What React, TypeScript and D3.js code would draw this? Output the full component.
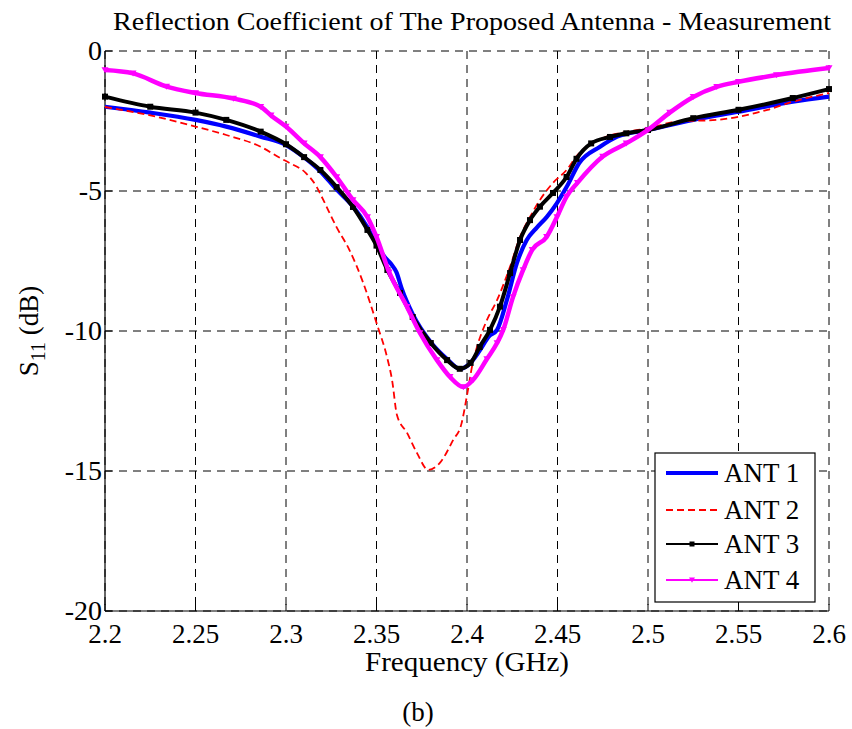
import React from "react";
import * as d3 from "d3";

const xTicks = [2.2, 2.25, 2.3, 2.35, 2.4, 2.45, 2.5, 2.55, 2.6];
const xTickLabels = ["2.2", "2.25", "2.3", "2.35", "2.4", "2.45", "2.5", "2.55", "2.6"];
const yTicks = [0, -5, -10, -15, -20];
const yTickLabels = ["0", "-5", "-10", "-15", "-20"];
const seriesNames = ["ANT 1", "ANT 2", "ANT 3", "ANT 4"];

const ant1F = [2.2, 2.225, 2.25, 2.267, 2.286, 2.3, 2.31, 2.319, 2.328, 2.337, 2.345, 2.35, 2.355, 2.358, 2.361, 2.364, 2.37, 2.38, 2.389, 2.396, 2.401, 2.407, 2.412, 2.4166, 2.422, 2.4276, 2.433, 2.4387, 2.444, 2.4497, 2.455, 2.462, 2.4735, 2.483, 2.5, 2.525, 2.55, 2.58, 2.6];
const ant1S = [-1.99, -2.2, -2.46, -2.7, -3.06, -3.36, -3.8, -4.3, -4.95, -5.55, -6.3, -6.9, -7.4, -7.6, -7.9, -8.5, -9.4, -10.4, -11.0, -11.35, -11.2, -10.7, -10.2, -9.96, -8.9, -7.57, -6.75, -6.3, -5.93, -5.43, -4.86, -4.0, -3.42, -3.06, -2.82, -2.46, -2.17, -1.81, -1.63];

const ant2F = [2.2, 2.225, 2.25, 2.267, 2.286, 2.297, 2.302, 2.311, 2.317, 2.3206, 2.328, 2.335, 2.3427, 2.35, 2.3558, 2.3586, 2.3613, 2.3669, 2.3724, 2.3785, 2.385, 2.3923, 2.397, 2.4, 2.4033, 2.4055, 2.411, 2.4166, 2.4238, 2.4293, 2.4348, 2.4403, 2.4475, 2.455, 2.461, 2.4755, 2.488, 2.5, 2.516, 2.538, 2.55, 2.566, 2.58, 2.6];
const ant2S = [-2.0, -2.3, -2.7, -3.0, -3.42, -3.83, -4.0, -4.36, -4.86, -5.32, -6.3, -7.1, -8.29, -9.71, -10.93, -11.75, -13.0, -13.64, -14.36, -14.96, -14.71, -13.9, -13.3, -12.3, -11.1, -10.57, -9.61, -8.9, -7.7, -6.64, -5.93, -5.32, -4.71, -4.25, -3.72, -3.1, -2.89, -2.76, -2.52, -2.46, -2.35, -2.1, -1.81, -1.5];

const ant3F = [2.2, 2.225, 2.25, 2.267, 2.286, 2.3, 2.31, 2.319, 2.328, 2.337, 2.345, 2.35, 2.356, 2.363, 2.37, 2.38, 2.389, 2.396, 2.402, 2.407, 2.4127, 2.4182, 2.4238, 2.4293, 2.4348, 2.4403, 2.4475, 2.455, 2.4605, 2.4686, 2.479, 2.488, 2.5, 2.525, 2.55, 2.58, 2.6];
const ant3S = [-1.63, -1.99, -2.2, -2.46, -2.88, -3.33, -3.79, -4.25, -4.86, -5.57, -6.39, -6.95, -7.82, -8.64, -9.5, -10.43, -11.04, -11.35, -11.14, -10.57, -9.96, -9.13, -7.93, -6.75, -6.04, -5.56, -5.07, -4.5, -3.85, -3.3, -3.07, -2.94, -2.82, -2.4, -2.1, -1.68, -1.36];

const ant4F = [2.2, 2.2155, 2.234, 2.25, 2.271, 2.286, 2.2917, 2.3, 2.31, 2.319, 2.328, 2.337, 2.345, 2.35, 2.357, 2.3669, 2.374, 2.3834, 2.3906, 2.398, 2.4033, 2.411, 2.4166, 2.42, 2.4254, 2.431, 2.436, 2.444, 2.4497, 2.455, 2.461, 2.475, 2.488, 2.5, 2.512, 2.525, 2.538, 2.55, 2.571, 2.6];
const ant4S = [-0.68, -0.8, -1.27, -1.5, -1.7, -1.99, -2.3, -2.7, -3.3, -3.79, -4.5, -5.32, -5.93, -6.64, -7.9, -9.14, -10.07, -11.04, -11.64, -12.0, -11.75, -11.0, -10.43, -9.96, -8.79, -7.82, -7.1, -6.64, -5.93, -5.2, -4.71, -3.77, -3.3, -2.82, -2.2, -1.64, -1.28, -1.1, -0.86, -0.61];

const W = 852, H = 729;
const L = 105, R = 829, T = 51, B = 611;
const FONT = "'Liberation Serif', 'Times New Roman', serif";

export default function App() {
  const x = d3.scaleLinear().domain([2.2, 2.6]).range([L, R]);
  const y = d3.scaleLinear().domain([-20, 0]).range([B, T]);
  const line = d3
    .line<[number, number]>()
    .x((d) => x(d[0]))
    .y((d) => y(d[1]))
    .curve(d3.curveMonotoneX);
  const zip = (f: number[], s: number[]) => f.map((v, i) => [v, s[i]] as [number, number]);
  const d1 = zip(ant1F, ant1S);
  const d2 = zip(ant2F, ant2S);
  const d3s = zip(ant3F, ant3S);
  const d4 = zip(ant4F, ant4S);

  const tri = (cx: number, cy: number, s: number) =>
    `M${cx - s},${cy - s * 0.8}L${cx + s},${cy - s * 0.8}L${cx},${cy + s * 0.9}Z`;

  const legX = 655, legY = 453, legW = 160, legH = 149;
  const legRows = [473, 510, 544, 580];

  return (
    <svg width={W} height={H} style={{ position: "absolute", left: 0, top: 0, background: "#fff", fontFamily: FONT }}>
      <rect x={0} y={0} width={W} height={H} fill="#fff" />
      {/* grid */}
      {xTicks.map((t, i) => (
        <line key={"gx" + i} x1={x(t)} x2={x(t)} y1={T} y2={B} stroke="#000" strokeWidth={1} strokeDasharray="8,6" />
      ))}
      {yTicks.map((t, i) => (
        <line key={"gy" + i} x1={L} x2={R} y1={y(t)} y2={y(t)} stroke="#000" strokeWidth={1} strokeDasharray="8,6" />
      ))}
      {/* axes */}
      <line x1={L} x2={L} y1={T} y2={B} stroke="#000" strokeWidth={1.2} />
      <line x1={L} x2={R} y1={B} y2={B} stroke="#000" strokeWidth={1.2} />
      {xTicks.map((t, i) => (
        <line key={"tx" + i} x1={x(t)} x2={x(t)} y1={B} y2={B - 7} stroke="#000" strokeWidth={1} />
      ))}
      {yTicks.map((t, i) => (
        <line key={"ty" + i} x1={L} x2={L + 7} y1={y(t)} y2={y(t)} stroke="#000" strokeWidth={1} />
      ))}
      {/* tick labels */}
      {xTicks.map((t, i) => (
        <text key={"lx" + i} x={x(t)} y={643} textAnchor="middle" fontSize={27}>
          {xTickLabels[i]}
        </text>
      ))}
      {yTicks.map((t, i) => (
        <text key={"ly" + i} x={102} y={y(t) + 9} textAnchor="end" fontSize={28}>
          {yTickLabels[i]}
        </text>
      ))}
      {/* series */}
      <path d={line(d1) || ""} fill="none" stroke="#0000ff" strokeWidth={4.2} />
      <path d={line(d2) || ""} fill="none" stroke="#ff0000" strokeWidth={1.8} strokeDasharray="7,4" />
      <path d={line(d3s) || ""} fill="none" stroke="#000" strokeWidth={4} />
      {d3s.map((p, i) => (
        <rect key={"m3" + i} x={x(p[0]) - 3} y={y(p[1]) - 3} width={6} height={6} fill="#000" />
      ))}
      <path d={line(d4) || ""} fill="none" stroke="#ff00ff" strokeWidth={4.5} />
      {d4.map((p, i) => (
        <path key={"m4" + i} d={tri(x(p[0]), y(p[1]), 3.5)} fill="#ff00ff" />
      ))}
      {/* legend */}
      <rect x={legX} y={legY} width={legW} height={legH} fill="#fff" stroke="#000" strokeWidth={1.2} />
      <line x1={666} x2={718} y1={legRows[0]} y2={legRows[0]} stroke="#0000ff" strokeWidth={4} />
      <line x1={666} x2={718} y1={legRows[1]} y2={legRows[1]} stroke="#ff0000" strokeWidth={1.8} strokeDasharray="7,4" />
      <line x1={666} x2={718} y1={legRows[2]} y2={legRows[2]} stroke="#000" strokeWidth={2} />
      <rect x={692 - 2.5} y={legRows[2] - 2.5} width={5} height={5} fill="#000" />
      <line x1={666} x2={718} y1={legRows[3]} y2={legRows[3]} stroke="#ff00ff" strokeWidth={2} />
      <path d={tri(692, legRows[3], 3)} fill="#ff00ff" />
      {seriesNames.map((n, i) => (
        <text key={"ln" + i} x={724} y={legRows[i] + 9} fontSize={27}>
          {n}
        </text>
      ))}
      {/* titles */}
      <text x={472} y={30} textAnchor="middle" fontSize={25} textLength={718} lengthAdjust="spacingAndGlyphs">
        Reflection Coefficient of The Proposed Antenna - Measurement
      </text>
      <text x={467} y={671} textAnchor="middle" fontSize={27} textLength={204} lengthAdjust="spacingAndGlyphs">
        Frequency (GHz)
      </text>
      <text x={418} y={721} textAnchor="middle" fontSize={27}>
        (b)
      </text>
      <text transform={`translate(38,331) rotate(-90)`} textAnchor="middle" fontSize={27}>
        S<tspan dy={7} fontSize={20}>11</tspan>
        <tspan dy={-7}> (dB)</tspan>
      </text>
    </svg>
  );
}
